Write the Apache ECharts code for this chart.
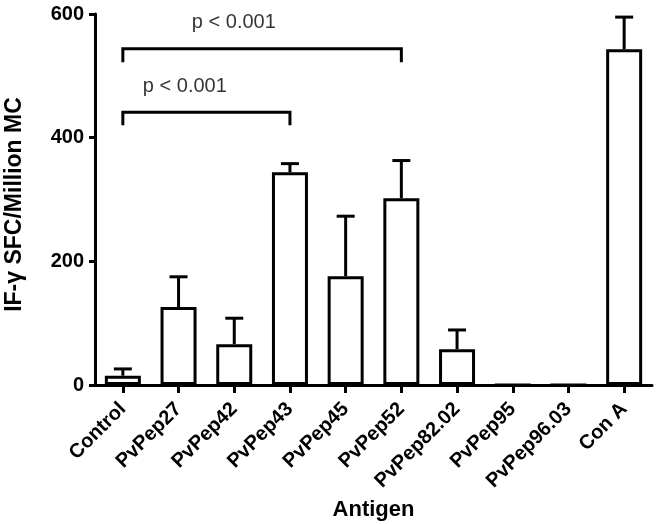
<!DOCTYPE html>
<html>
<head>
<meta charset="utf-8">
<script src="https://cdn.jsdelivr.net/npm/echarts@6/dist/echarts.min.js"></script>
<style>
html,body{margin:0;padding:0;background:#fff;}
#chart{width:661px;height:524px;}
</style>
</head>
<body>
<div id="chart"></div>
<script>
// ---- data ----
const categories = ['Control','PvPep27','PvPep42','PvPep43','PvPep45','PvPep52','PvPep82.02','PvPep95','PvPep96.03','Con A'];
const means      = [15, 126, 66, 344, 176, 302, 58, 0, 0, 543];
const errors     = [11,  49, 42,  14,  97,  61, 31, 0, 0,  52];
const yTicks     = [0, 200, 400, 600];
// significance brackets
const bracketFrom   = ['Control', 'Control'];
const bracketTo     = ['PvPep43', 'PvPep52'];
const bracketTop    = [441, 544];
const bracketBottom = [420, 522];
const pLabels       = ['p < 0.001', 'p < 0.001'];
const pLabelY       = [483, 586];

const FONT = 'Liberation Sans, Arial, sans-serif';
const chart = echarts.init(document.getElementById('chart'), null, {renderer:'canvas'});

const bracketSeries = bracketFrom.map((f, i) => ({
  type: 'line',
  data: [[f, bracketBottom[i]], [f, bracketTop[i]], [bracketTo[i], bracketTop[i]], [bracketTo[i], bracketBottom[i]]],
  symbol: 'none',
  lineStyle: {color: '#000', width: 3, join: 'miter', cap: 'butt'},
  z: 5,
  silent: true
}));

const labelDistance = [20, 69];
const labelSeries = pLabels.map((t, i) => ({
  type: 'scatter',
  data: [[bracketFrom[i], pLabelY[i]]],
  symbolSize: 0,
  label: {
    show: true, position: 'right', distance: labelDistance[i],
    formatter: t, fontFamily: FONT, fontSize: 20, color: '#000'
  },
  silent: true
}));

chart.setOption({
  animation: false,
  backgroundColor: '#fff',
  grid: {left: 95, right: 9, top: 14, bottom: 139, containLabel: false, outerBoundsMode: 'none'},
  xAxis: {
    type: 'category',
    data: categories,
    name: 'Antigen',
    nameLocation: 'middle',
    nameGap: 105,
    nameTextStyle: {fontFamily: FONT, fontSize: 22, fontWeight: 'bold', color: '#000'},
    axisLine: {show: true, lineStyle: {color: '#000', width: 3}},
    axisTick: {show: true, alignWithLabel: true, length: 8, lineStyle: {color: '#000', width: 3}},
    axisLabel: {rotate: 45, margin: 21, fontFamily: FONT, fontSize: 20, fontWeight: 'bold', color: '#000', interval: 0},
    splitLine: {show: false}
  },
  yAxis: {
    type: 'value',
    min: yTicks[0], max: yTicks[yTicks.length - 1], interval: yTicks[1] - yTicks[0],
    name: 'IF-γ SFC/Million MC',
    nameLocation: 'middle',
    nameGap: 69,
    nameTextStyle: {fontFamily: FONT, fontSize: 23, fontWeight: 'bold', color: '#000', padding: [0, 10, 0, 0]},
    axisLine: {show: true, lineStyle: {color: '#000', width: 3}},
    axisTick: {show: true, length: 6, lineStyle: {color: '#000', width: 3}},
    axisLabel: {margin: 11, fontFamily: FONT, fontSize: 20, fontWeight: 'bold', color: '#000'},
    splitLine: {show: false}
  },
  series: [
    {
      type: 'bar',
      data: means,
      barWidth: 36,
      itemStyle: {color: '#fff', borderColor: '#000', borderWidth: 3},
      z: 2,
      silent: true
    },
    {
      type: 'custom',
      data: means.map((m, i) => [i, m, m + errors[i]]),
      z: 3,
      silent: true,
      renderItem: function (params, api) {
        const x = api.value(0), v = api.value(1), e = api.value(2);
        if (!(e > v)) return null;
        const p0 = api.coord([x, v]);
        const p1 = api.coord([x, e]);
        return {
          type: 'group',
          children: [
            {type: 'line', shape: {x1: p0[0], y1: p0[1], x2: p1[0], y2: p1[1]}, style: {stroke: '#000', lineWidth: 3}},
            {type: 'line', shape: {x1: p1[0] - 9, y1: p1[1], x2: p1[0] + 9, y2: p1[1]}, style: {stroke: '#000', lineWidth: 3}}
          ]
        };
      }
    }
  ].concat(bracketSeries, labelSeries)
});
</script>
</body>
</html>
